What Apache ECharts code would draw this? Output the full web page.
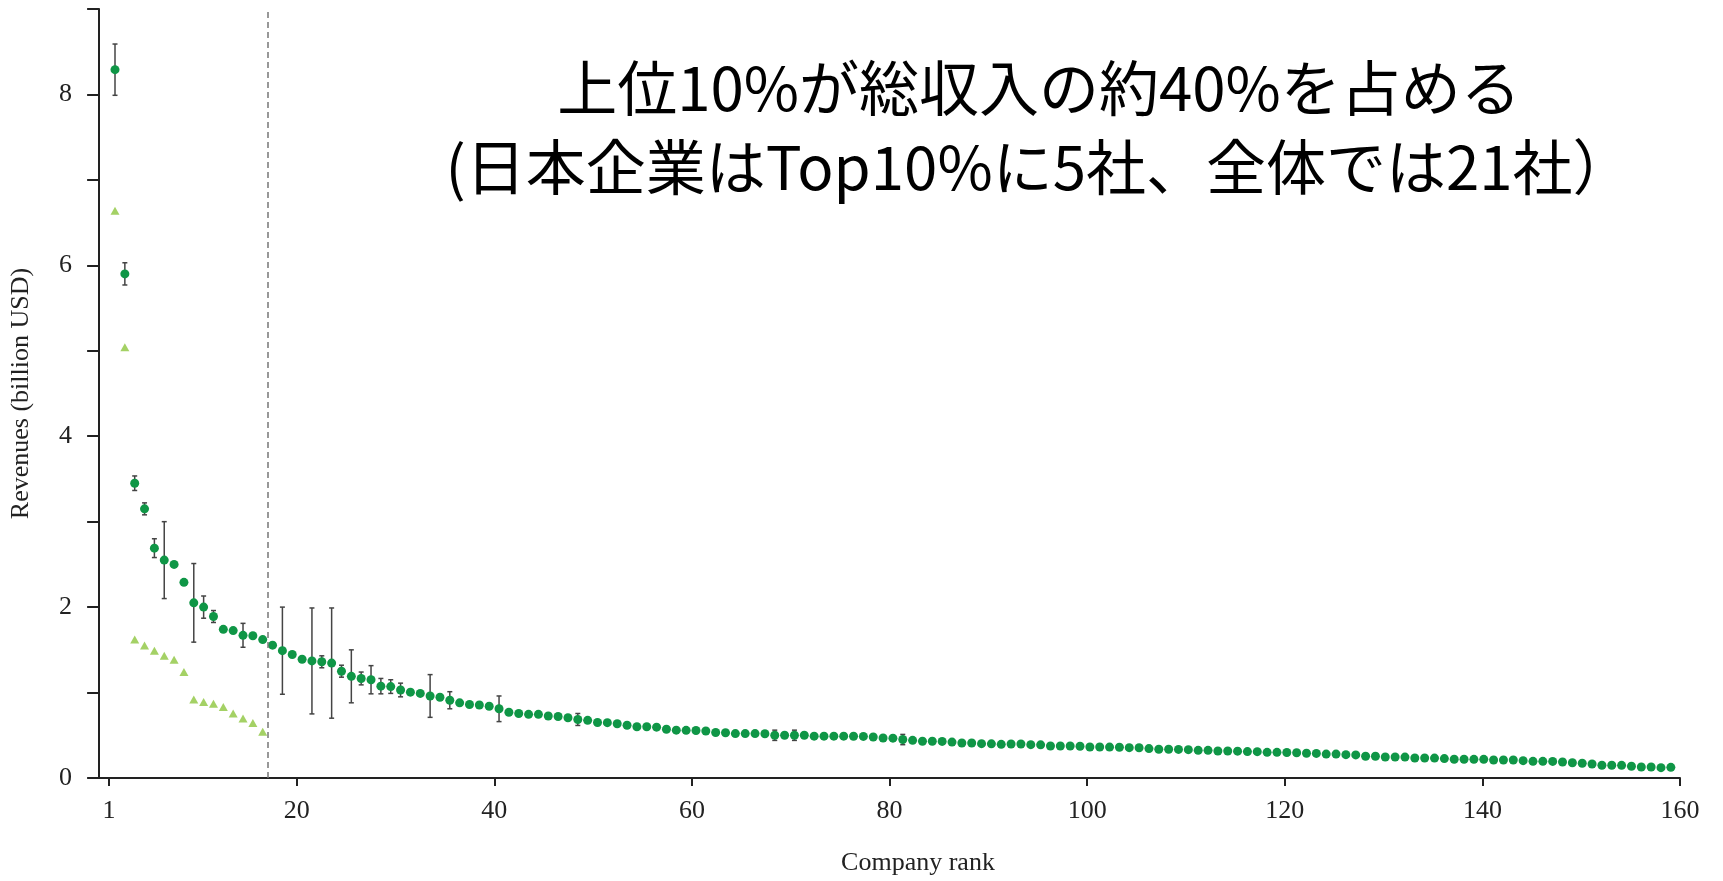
<!DOCTYPE html>
<html>
<head>
<meta charset="utf-8">
<script src="https://cdn.jsdelivr.net/npm/echarts@6/dist/echarts.min.js"></script>
<style>
html,body{margin:0;padding:0;background:#fff;}
#chart{width:1723px;height:881px;}
</style>
</head>
<body>
<div id="chart"></div>
<script>
// ---- data ----
const titleLines = ['上位10%が総収入の約40%を占める', '(日本企業はTop10%に5社、全体では21社）'];
const xTickLabels = [1, 20, 40, 60, 80, 100, 120, 140, 160];
const yTickValues = [0, 2, 4, 6, 8];
const top10Boundary = 16.5;

// revenues of all companies (billion USD), rank 1..160
const revenuesAll = [
  8.29, 5.90, 3.45, 3.15, 2.69, 2.55, 2.50, 2.29, 2.05, 2.00,
  1.89, 1.74, 1.725, 1.67, 1.665, 1.62, 1.555, 1.49, 1.445, 1.39,
  1.37, 1.36, 1.345, 1.25, 1.19, 1.165, 1.15, 1.075, 1.07, 1.03,
  1.005, 0.99, 0.96, 0.945, 0.91, 0.88, 0.86, 0.855, 0.84, 0.81,
  0.77, 0.755, 0.745, 0.745, 0.725, 0.72, 0.705, 0.685, 0.675, 0.65,
  0.648, 0.635, 0.617, 0.60, 0.60, 0.595, 0.57, 0.56, 0.558, 0.556,
  0.55, 0.532, 0.53, 0.52, 0.52, 0.52, 0.518, 0.50, 0.50, 0.50,
  0.50, 0.49, 0.49, 0.49, 0.49, 0.488, 0.487, 0.48, 0.468, 0.466,
  0.45, 0.441, 0.43, 0.43, 0.428, 0.42, 0.41, 0.41, 0.402, 0.40,
  0.394, 0.398, 0.398, 0.39, 0.388, 0.375, 0.375, 0.374, 0.372, 0.363,
  0.363, 0.362, 0.36, 0.355, 0.354, 0.344, 0.336, 0.336, 0.335, 0.332,
  0.324, 0.324, 0.316, 0.316, 0.314, 0.309, 0.308, 0.30, 0.30, 0.299,
  0.296, 0.289, 0.288, 0.28, 0.28, 0.273, 0.27, 0.255, 0.254, 0.246,
  0.246, 0.245, 0.234, 0.234, 0.233, 0.227, 0.219, 0.219, 0.218, 0.218,
  0.211, 0.211, 0.21, 0.203, 0.195, 0.195, 0.194, 0.187, 0.179, 0.172,
  0.164, 0.149, 0.149, 0.148, 0.137, 0.129, 0.129, 0.121, 0.125, 0.117
];

// second series (triangles) for the top 16 ranks
const revenuesTop = [
  6.64, 5.04, 1.62, 1.55, 1.49, 1.43, 1.385, 1.24,
  0.92, 0.89, 0.87, 0.83, 0.755, 0.695, 0.645, 0.54
];

// error bars: rank and half-width
const errRanks = [1, 2, 3, 4, 5, 6, 9, 10, 11, 14, 18, 21, 22, 23, 24, 25, 26, 27, 28, 29, 30, 33, 35, 40, 48, 68, 70, 81];
const errHalf  = [0.30, 0.13, 0.085, 0.07, 0.11, 0.45, 0.46, 0.13, 0.07, 0.14, 0.51, 0.62, 0.07, 0.645, 0.07, 0.31, 0.075, 0.165, 0.09, 0.08, 0.08, 0.25, 0.10, 0.15, 0.07, 0.06, 0.06, 0.06];

// ---- build ----
const allData = revenuesAll.map((v, i) => [i + 1, v]);
const topData = revenuesTop.map((v, i) => [i + 1, v]);
const errData = errRanks.map((r, i) => [r, revenuesAll[r - 1] - errHalf[i], revenuesAll[r - 1] + errHalf[i]]);

const serif = '"Liberation Serif", "Times New Roman", serif';
const axisColor = '#222';

const chart = echarts.init(document.getElementById('chart'), null, {renderer: 'canvas'});
chart.setOption({
  animation: false,
  backgroundColor: '#fff',
  grid: {left: 92, right: 43, top: 9, bottom: 103, containLabel: false},
  graphic: [{
    type: 'text',
    x: 1039, y: 128,
    style: {
      text: titleLines.join('\n'),
      font: '60px "Noto Sans CJK JP"',
      fill: '#000',
      textAlign: 'center',
      textVerticalAlign: 'middle',
      lineHeight: 79
    }
  }],
  xAxis: [{
    type: 'value',
    min: -0.72, max: 160,
    name: 'Company rank',
    nameLocation: 'middle',
    nameGap: 72,
    nameTextStyle: {fontFamily: serif, fontSize: 26, color: axisColor, padding: [0, 0, 0, 64]},
    axisLine: {show: true, onZero: false, lineStyle: {color: axisColor, width: 2}},
    axisTick: {show: true, length: 8, lineStyle: {color: axisColor, width: 2}, customValues: xTickLabels},
    axisLabel: {fontFamily: serif, fontSize: 26, color: axisColor, margin: 20, customValues: xTickLabels},
    splitLine: {show: false}
  }, {
    type: 'value',
    show: false,
    min: -1.336, max: 159.93,
    splitLine: {show: false}
  }],
  yAxis: {
    type: 'value',
    min: 0, max: 9, interval: 1,
    name: 'Revenues (billion USD)',
    nameLocation: 'middle',
    nameGap: 58,
    nameTextStyle: {fontFamily: serif, fontSize: 26, color: axisColor},
    axisLine: {show: true, lineStyle: {color: axisColor, width: 2}},
    axisTick: {show: true, length: 12, lineStyle: {color: axisColor, width: 2}},
    axisLabel: {
      fontFamily: serif, fontSize: 26, color: axisColor, margin: 20,
      formatter: v => (yTickValues.indexOf(v) >= 0 ? String(v) : '')
    },
    splitLine: {show: false}
  },
  series: [{
    type: 'custom',
    xAxisIndex: 1,
    data: errData,
    z: 1,
    renderItem: function (params, api) {
      const x = api.value(0);
      const top = api.coord([x, api.value(2)]);
      const bot = api.coord([x, api.value(1)]);
      const w = 2.5;
      const st = {stroke: '#444', lineWidth: 1.5};
      return {
        type: 'group',
        children: [
          {type: 'line', shape: {x1: top[0], y1: top[1], x2: bot[0], y2: bot[1]}, style: st},
          {type: 'line', shape: {x1: top[0] - w, y1: top[1], x2: top[0] + w, y2: top[1]}, style: st},
          {type: 'line', shape: {x1: bot[0] - w, y1: bot[1], x2: bot[0] + w, y2: bot[1]}, style: st}
        ]
      };
    }
  }, {
    type: 'scatter',
    name: 'Top 10%',
    xAxisIndex: 1,
    data: topData,
    symbol: 'triangle',
    symbolSize: [9, 8],
    itemStyle: {color: '#8dc63f'},
    z: 2
  }, {
    type: 'scatter',
    name: 'All',
    xAxisIndex: 1,
    data: allData,
    symbol: 'circle',
    symbolSize: 9,
    itemStyle: {color: '#0f9646', opacity: 1},
    z: 3,
    markLine: {
      silent: true,
      symbol: ['none', 'none'],
      label: {show: false},
      lineStyle: {type: [6, 4], color: '#777', width: 1.5},
      data: [{xAxis: top10Boundary}]
    }
  }]
});
</script>
</body>
</html>
